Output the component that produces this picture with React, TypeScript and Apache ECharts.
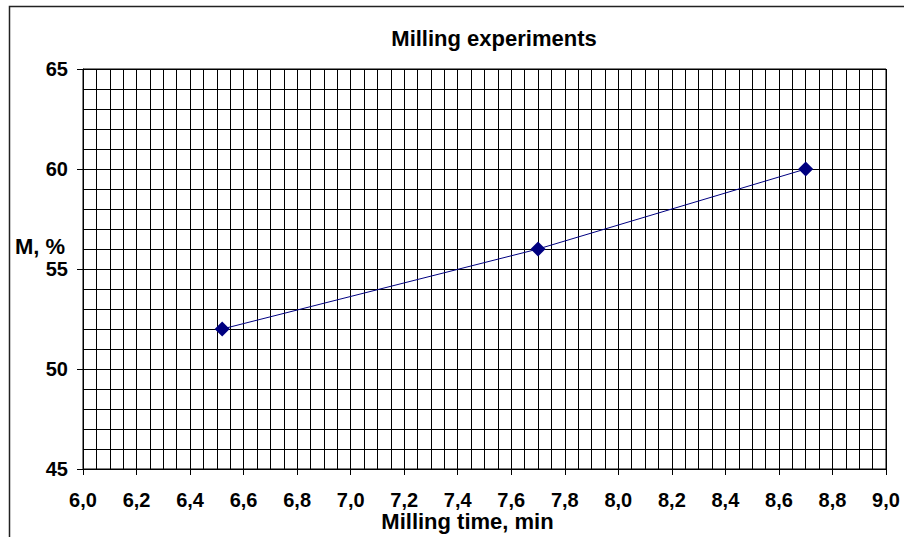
import React, { useEffect, useRef } from "react";
import * as echarts from "echarts";

const chartTitle = "Milling experiments";
const xAxisTitle = "Milling time, min";
const yAxisTitle = "M, %";
const millingTime = [6.52, 7.7, 8.7];
const mPercent = [52, 56, 60];
const xRange = [6, 9];
const yRange = [45, 65];

const FONT = "'Liberation Sans', Arial, sans-serif";

export default function App() {
  const ref = useRef<HTMLDivElement>(null);
  useEffect(() => {
    if (!ref.current) return;
    const chart = echarts.init(ref.current, undefined, { renderer: "svg" });
    const data = millingTime.map((t, i) => [t, mPercent[i]]);
    chart.setOption({
      animation: false,
      backgroundColor: "#ffffff",
      textStyle: { fontFamily: FONT },
      title: {
        text: chartTitle,
        left: 494,
        textAlign: "center",
        top: 27,
        padding: 0,
        textStyle: { fontFamily: FONT, fontSize: 22, fontWeight: "bold", color: "#000" },
      },
      grid: {
        left: 83,
        right: 18,
        top: 69,
        bottom: 68,
        show: true,
        borderColor: "#000",
        borderWidth: 1,
        backgroundColor: "transparent",
      },
      xAxis: {
        type: "value",
        min: xRange[0],
        max: xRange[1],
        interval: 0.2,
        axisLine: { show: true, onZero: false, lineStyle: { color: "#000", width: 1 } },
        axisTick: { show: true, length: 6, lineStyle: { color: "#000" } },
        minorTick: { show: false, splitNumber: 4 },
        splitLine: { show: true, lineStyle: { color: "#000", width: 1 } },
        minorSplitLine: { show: true, lineStyle: { color: "#000", width: 1 } },
        axisLabel: {
          margin: 21,
          fontSize: 20,
          fontWeight: "bold",
          color: "#000",
          fontFamily: FONT,
          formatter: (v: number) => v.toFixed(1).replace(".", ","),
        },
      },
      yAxis: {
        type: "value",
        min: yRange[0],
        max: yRange[1],
        interval: 5,
        axisLine: { show: true, onZero: false, lineStyle: { color: "#000", width: 1 } },
        axisTick: { show: true, length: 6, lineStyle: { color: "#000" } },
        minorTick: { show: false, splitNumber: 5 },
        splitLine: { show: true, lineStyle: { color: "#000", width: 1 } },
        minorSplitLine: { show: true, lineStyle: { color: "#000", width: 1 } },
        axisLabel: {
          margin: 15,
          fontSize: 20,
          fontWeight: "bold",
          color: "#000",
          fontFamily: FONT,
        },
      },
      series: [
        {
          type: "line",
          data,
          symbol: "diamond",
          symbolSize: 15,
          showSymbol: true,
          lineStyle: { color: "#000080", width: 1 },
          itemStyle: { color: "#000080" },
        },
      ],
      graphic: [
        {
          type: "rect",
          silent: true,
          shape: { x: 9.5, y: 6.5, width: 1200, height: 1200 },
          style: { fill: "none", stroke: "#222", lineWidth: 1.5 },
          z: 100,
        },
        {
          type: "text",
          x: 15,
          y: 246,
          style: {
            text: yAxisTitle,
            fontFamily: FONT,
            fontSize: 22,
            fontWeight: "bold",
            fill: "#000",
            align: "left",
            verticalAlign: "middle",
          },
        },
        {
          type: "text",
          x: 467.5,
          y: 521.5,
          style: {
            text: xAxisTitle,
            fontFamily: FONT,
            fontSize: 22,
            fontWeight: "bold",
            fill: "#000",
            align: "center",
            verticalAlign: "middle",
          },
        },
      ],
    });
    return () => chart.dispose();
  }, []);
  return (
    <div
      ref={ref}
      style={{ position: "absolute", left: 0, top: 0, width: 904, height: 537 }}
    />
  );
}
